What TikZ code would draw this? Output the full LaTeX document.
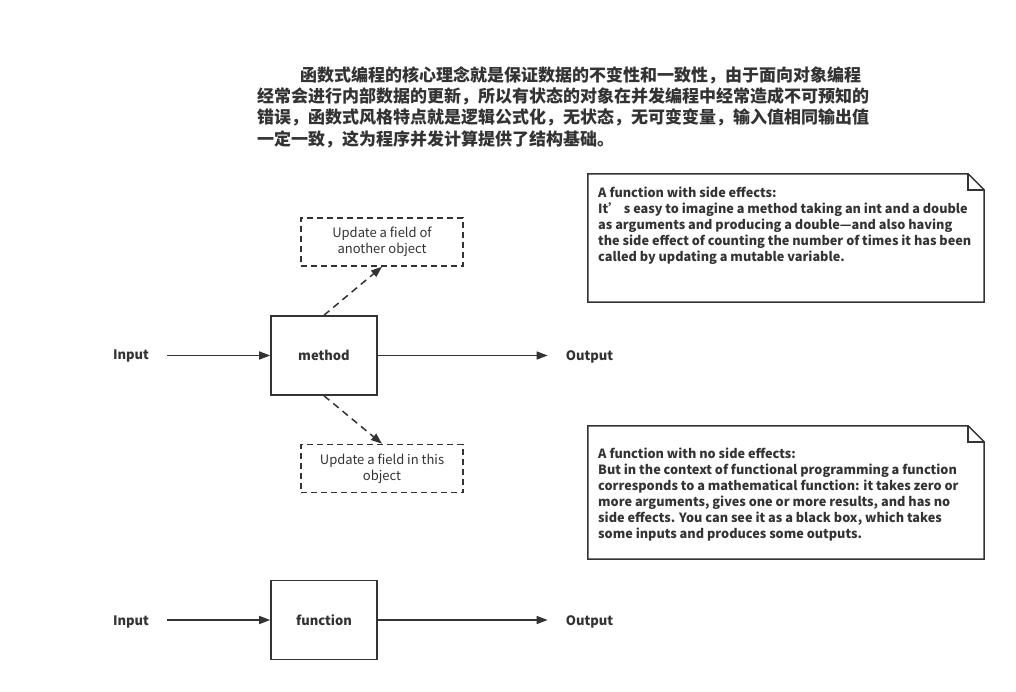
\documentclass[tikz,border=0pt]{standalone}
\usepackage{fontspec}
\setmainfont{Noto Sans CJK SC}
\usetikzlibrary{arrows.meta}
\definecolor{ink}{HTML}{333333}
\tikzset{
  blockbox/.style={draw=ink, line width=1.6pt, minimum width=106pt, minimum height=79pt,
    text=ink, font=\bfseries\fontsize{13}{16}\selectfont},
  dashbox/.style={draw=ink, line width=1.5pt, dash pattern=on 6pt off 4pt,
    minimum width=162pt, minimum height=48pt, align=center, text=ink,
    font=\fontsize{13}{16}\selectfont},
  flowlabel/.style={text=ink, font=\bfseries\fontsize{13}{16}\selectfont, inner xsep=18pt},
  flow/.style={draw=ink, line width=1.5pt, -{Triangle[length=11pt,width=8pt]}},
  dashflow/.style={flow, dash pattern=on 7pt off 5pt},
  notebox/.style={minimum width=396pt, inner sep=0pt},
  notetext/.style={align=left, text=ink, inner sep=0pt,
    font=\bfseries\fontsize{12.7}{16}\selectfont},
  notefold/.style={draw=ink, line width=1.5pt, line join=miter},
}
\newcommand{\foldednote}[1]{%
  \draw[notefold] (#1.north west) -- ([xshift=-16pt]#1.north east)
    -- ([yshift=-16pt]#1.north east) -- (#1.south east) -- (#1.south west) -- cycle;
  \draw[notefold] ([xshift=-16pt]#1.north east) -- ([xshift=-16pt,yshift=-16pt]#1.north east)
    -- ([yshift=-16pt]#1.north east);}
\begin{document}
\begin{tikzpicture}[x=1pt, y=-1pt]
\useasboundingbox (0,0) rectangle (1016,692);
\fill[white] (0,0) rectangle (1016,692);

% heading paragraph
\node[anchor=west, align=left, inner sep=0pt, text=ink,
      font=\bfseries\fontsize{17}{21.3}\selectfont] (intro) at (257,107)
  {\hspace*{43pt}函数式编程的核心理念就是保证数据的不变性和一致性，由于面向对象编程\\
   经常会进行内部数据的更新，所以有状态的对象在并发编程中经常造成不可预知的\\
   错误，函数式风格特点就是逻辑公式化，无状态，无可变变量，输入值相同输出值\\
   一定一致，这为程序并发计算提供了结构基础。};

% notes
\node[notebox, minimum height=128pt] (note1) at (786,238) {};
\foldednote{note1}
\node[notetext, anchor=west] (note1text) at (598,226)
  {A function with side effects:\\
   It’ s easy to imagine a method taking an int and a double\\
   as arguments and producing a double—and also having\\
   the side effect of counting the number of times it has been\\
   called by updating a mutable variable.};

\node[notebox, minimum height=133pt] (note2) at (786,492.5) {};
\foldednote{note2}
\node[notetext, anchor=west] (note2text) at (598,495)
  {A function with no side effects:\\
   But in the context of functional programming a function\\
   corresponds to a mathematical function: it takes zero or\\
   more arguments, gives one or more results, and has no\\
   side effects. You can see it as a black box, which takes\\
   some inputs and produces some outputs.};

% method with side effects
\node[blockbox] (method) at (324,355.5) {method};
\node[dashbox] (other) at (382,242) {Update a field of\\another object};
\node[dashbox] (self) at (382,468.5) {Update a field in this\\object};
\node[flowlabel] (in1) at (131,356.5) {Input};
\node[flowlabel] (out1) at (589.5,356.5) {Output};
\draw[flow] (in1.east |- method.west) -- (method.west);
\draw[flow] (method.east) -- (out1.west |- method.east);
\draw[dashflow] (method.north) -- (other.south);
\draw[dashflow] (method.south) -- (self.north);

% pure function
\node[blockbox] (func) at (324,620) {function};
\node[flowlabel] (in2) at (131,621.5) {Input};
\node[flowlabel] (out2) at (589.5,621.5) {Output};
\draw[flow] (in2.east |- func.west) -- (func.west);
\draw[flow] (func.east) -- (out2.west |- func.east);
\end{tikzpicture}
\end{document}
